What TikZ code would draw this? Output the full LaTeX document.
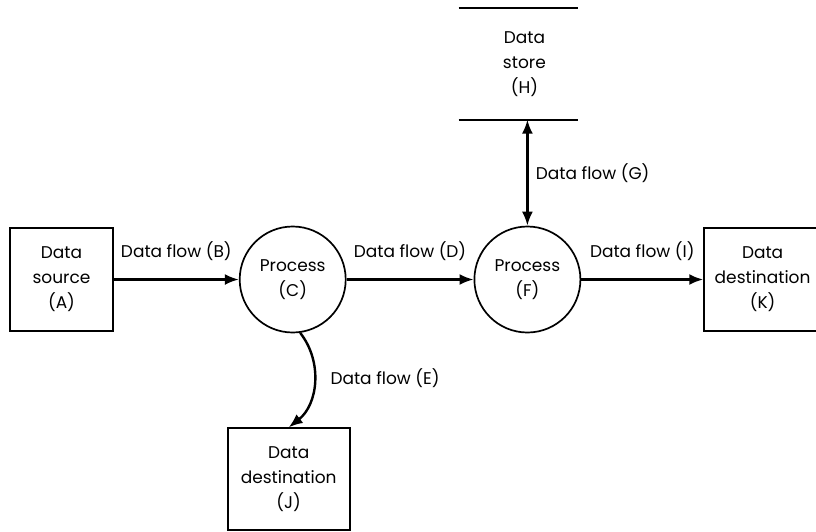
\documentclass[tikz,border=0pt]{standalone}
\usepackage{fontspec}
\setmainfont{Poppins}
\usetikzlibrary{positioning,arrows.meta}

\tikzset{
  entity/.style={rectangle, draw, line width=1.7pt, minimum width=103pt, minimum height=103pt, align=center},
  process/.style={circle, draw, line width=1.7pt, minimum size=106pt, align=center},
  flow/.style={line width=2.4pt, -{Latex[length=14pt,width=11pt]}},
}

\begin{document}
\begin{tikzpicture}[x=1pt, y=-1pt, node distance=125pt, font=\fontsize{17}{25}\selectfont]
    \useasboundingbox (0,0) rectangle (816,531);
    \node[entity] (srcA) at (61.5,279.5) {Data\\source\\(A)};
    \node[process] (procC) [right=of srcA] {Process\\(C)};
    \node[process] (procF) [right=127pt of procC] {Process\\(F)};
    \node[entity, minimum width=117pt] (destK) [right=122pt of procF] {Data\\destination\\(K)};
    \node[entity, minimum width=122pt, minimum height=102pt] (destJ) [below=94pt of procC, xshift=-4pt] {Data\\destination\\(J)};
    \node[align=center, minimum width=119pt, minimum height=111pt] (storeH) [above=106pt of procF, xshift=-3pt] {Data\\store\\(H)};
    % data store lines
    \draw[line width=1.7pt] ([xshift=-6pt]storeH.north west) -- ([xshift=-6pt]storeH.north east)
      ([xshift=-6pt]storeH.south west) -- ([xshift=-6pt]storeH.south east);
    % flows
    \draw[flow] (srcA) -- node[above=14pt] {Data flow (B)} (procC);
    \draw[flow] (procC) -- node[above=14pt] {Data flow (D)} (procF);
    \draw[flow] (procF) -- node[above=14pt] {Data flow (I)} (destK);
    \draw[flow, {Latex[length=14pt,width=11pt]}-{Latex[length=14pt,width=11pt]}]
      (storeH.south -| procF.north) -- node[right=4pt] {Data flow (G)} (procF.north);
    \draw[flow] (procC.278) to[bend left=45] node[right=12pt, yshift=4pt] {Data flow (E)} (destJ.north);
\end{tikzpicture}
\end{document}
